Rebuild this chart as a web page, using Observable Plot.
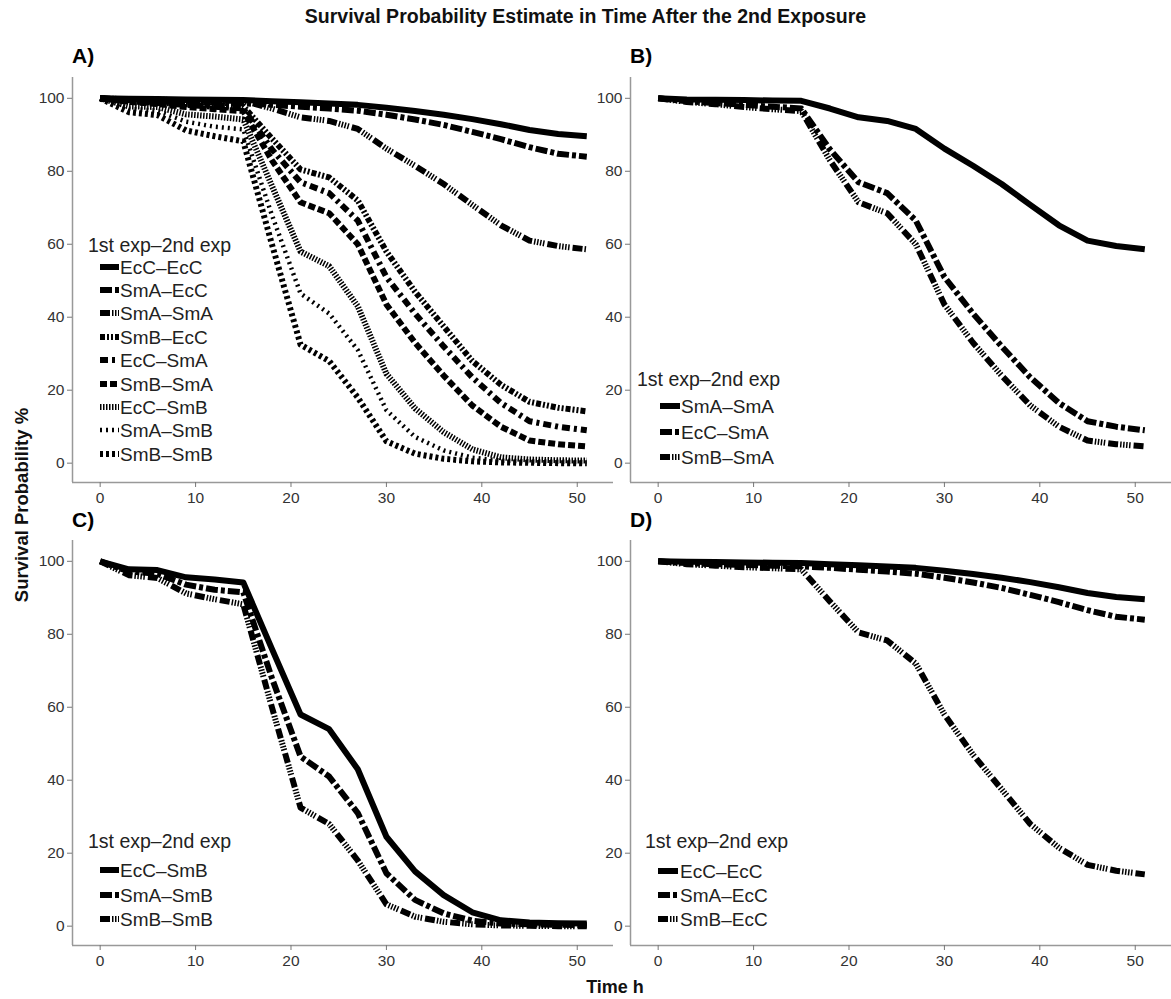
<!DOCTYPE html>
<html>
<head>
<meta charset="utf-8">
<script src="https://cdn.jsdelivr.net/npm/d3@7"></script>
<script src="https://cdn.jsdelivr.net/npm/@observablehq/plot@0.6"></script>
<style>
  html, body { margin: 0; padding: 0; background: #fff; }
  #root { position: relative; width: 1171px; height: 999px; background: #fff; font-family: "Liberation Sans", Arial, sans-serif; overflow: hidden; }
  .abs { position: absolute; white-space: nowrap; }
  .plot { position: absolute; }
  .lbl { position: absolute; white-space: nowrap; transform: translateY(-50%); line-height: 1; }
</style>
</head>
<body>
<div id="root"></div>
<script>
// ---------------- data ----------------
const time = [0, 3, 6, 9, 12, 15, 18, 21, 24, 27, 30, 33, 36, 39, 42, 45, 48, 51];

const EcC_EcC = [100, 99.9, 99.8, 99.7, 99.6, 99.5, 99.2, 98.9, 98.6, 98.2, 97.4, 96.5, 95.5, 94.3, 92.9, 91.3, 90.2, 89.6];
const SmA_EcC = [100, 99.5, 99.2, 99.0, 98.8, 98.6, 98.2, 97.7, 97.2, 96.6, 95.5, 94.2, 92.7, 90.8, 88.8, 86.6, 84.8, 84.0];
const SmA_SmA = [100, 99.7, 99.6, 99.5, 99.4, 99.3, 97.2, 94.8, 93.8, 91.6, 86.2, 81.5, 76.5, 70.8, 65.2, 61.0, 59.5, 58.6];
const SmB_EcC = [100, 99.2, 98.8, 98.4, 98.1, 97.8, 89.0, 80.5, 78.3, 72.0, 58.0, 47.0, 37.5, 28.0, 21.5, 16.8, 15.2, 14.2];
const EcC_SmA = [100, 99.2, 98.7, 98.2, 97.7, 97.2, 86.0, 77.0, 74.0, 66.5, 51.0, 41.0, 32.0, 23.5, 16.5, 11.5, 10.0, 9.0];
const SmB_SmA = [100, 99.0, 98.4, 97.6, 97.0, 96.5, 83.0, 71.5, 68.5, 60.0, 43.5, 33.0, 24.0, 15.8, 10.0, 6.2, 5.2, 4.6];
const EcC_SmB = [100, 97.8, 97.6, 95.6, 95.0, 94.2, 76.0, 58.0, 54.0, 43.0, 24.5, 15.0, 8.5, 3.8, 1.6, 1.0, 0.8, 0.7];
const SmA_SmB = [100, 97.2, 96.6, 93.6, 92.2, 91.5, 68.0, 46.5, 41.0, 31.0, 14.5, 7.2, 3.5, 1.5, 0.7, 0.5, 0.4, 0.3];
const SmB_SmB = [100, 96.2, 95.4, 91.2, 89.6, 88.2, 60.0, 32.5, 28.0, 18.0, 6.0, 2.6, 1.2, 0.5, 0.2, 0.1, 0.0, 0.0];

const seriesNames = ["EcC–EcC", "SmA–EcC", "SmA–SmA", "SmB–EcC", "EcC–SmA", "SmB–SmA", "EcC–SmB", "SmA–SmB", "SmB–SmB"];
const seriesValues = [EcC_EcC, SmA_EcC, SmA_SmA, SmB_EcC, EcC_SmA, SmB_SmA, EcC_SmB, SmA_SmB, SmB_SmB];

const xTicks = [0, 10, 20, 30, 40, 50];
const yTicks = [0, 20, 40, 60, 80, 100];

const panelA = ["EcC–EcC", "SmA–EcC", "SmA–SmA", "SmB–EcC", "EcC–SmA", "SmB–SmA", "EcC–SmB", "SmA–SmB", "SmB–SmB"];
const panelB = ["SmA–SmA", "EcC–SmA", "SmB–SmA"];
const panelC = ["EcC–SmB", "SmA–SmB", "SmB–SmB"];
const panelD = ["EcC–EcC", "SmA–EcC", "SmB–EcC"];

const titleText = "Survival Probability Estimate in Time After the 2nd Exposure";
const legendTitle = "1st exp–2nd exp";
const yLabel = "Survival Probability %";
const xLabel = "Time h";

// ---------------- styles ----------------
const styleA = {
  "EcC–EcC": {dash: null, w: 6},
  "SmA–EcC": {dash: "12,3,4,3", w: 6},
  "SmA–SmA": {dash: "10,2,1.5,1.5,1.5,1.5,1.5,1.5,1.5,3", w: 6},
  "SmB–EcC": {dash: "5,2,2,2,2,2", w: 6},
  "EcC–SmA": {dash: "8,4,3,4", w: 6},
  "SmB–SmA": {dash: "7,3", w: 6},
  "EcC–SmB": {dash: "1.5,1.5", w: 6},
  "SmA–SmB": {dash: "2,4", w: 4.5},
  "SmB–SmB": {dash: "3,3", w: 6}
};
const style3 = [
  {dash: null, w: 6},
  {dash: "12,3,4,3", w: 6},
  {dash: "10,2,1.5,1.5,1.5,1.5,1.5,1.5,1.5,3", w: 6}
];

// long-format table built from arrays
const table = [];
seriesNames.forEach((s, i) => time.forEach((t, j) => table.push({series: s, time: t, value: seriesValues[i][j]})));

const root = document.getElementById("root");
const xDomain = [-2.9, 53.8];
const yDomain = [-5.3, 105.7];

function panel(names, styleFor, left, top) {
  const width = 613; // marginLeft 72 + frame 541
  const marks = [
    Plot.ruleX([xDomain[0]], {stroke: "#999", strokeWidth: 1.5}),
    Plot.ruleY([yDomain[0]], {stroke: "#999", strokeWidth: 1.5}),
    Plot.axisX({ticks: xTicks, tickSize: 5, tickPadding: 4, stroke: "#777", fill: "#333", fontSize: 15.5, label: null}),
    Plot.axisY({ticks: yTicks, tickSize: 5, tickPadding: 3, stroke: "#777", fill: "#333", fontSize: 15.5, label: null})
  ];
  names.forEach((s, i) => {
    const st = styleFor(s, i);
    marks.push(Plot.line(table.filter(d => d.series === s), {
      x: "time", y: "value", stroke: "#000", strokeWidth: st.w,
      strokeDasharray: st.dash || undefined, strokeLinecap: "butt", strokeLinejoin: "round"
    }));
  });
  const p = Plot.plot({
    width: width, height: 505,
    marginLeft: 72, marginRight: 0, marginTop: 77, marginBottom: 23,
    x: {domain: xDomain},
    y: {domain: yDomain},
    style: {fontFamily: "'Liberation Sans', Arial, sans-serif", fontSize: "15.5px", background: "transparent", overflow: "visible"},
    marks
  });
  const div = document.createElement("div");
  div.className = "plot";
  div.style.left = left + "px";
  div.style.top = top + "px";
  div.appendChild(p);
  root.appendChild(div);
}

panel(panelA, s => styleA[s], 0, 0);
panel(panelB, (s, i) => style3[i], 558, 0);
panel(panelC, (s, i) => style3[i], 0, 463);
panel(panelD, (s, i) => style3[i], 558, 463);

// ---------------- text ----------------
function addText(txt, x, cy, css) {
  const d = document.createElement("div");
  d.className = "lbl";
  d.textContent = txt;
  d.style.left = x + "px";
  d.style.top = cy + "px";
  Object.assign(d.style, css || {});
  root.appendChild(d);
  return d;
}

addText(titleText, 0, 17, {width: "1171px", textAlign: "center", fontWeight: "bold", fontSize: "19.5px", color: "#111"});
addText("A)", 72, 55, {fontWeight: "bold", fontSize: "21px", color: "#000"});
addText("B)", 630, 55, {fontWeight: "bold", fontSize: "21px", color: "#000"});
addText("C)", 72, 519, {fontWeight: "bold", fontSize: "21px", color: "#000"});
addText("D)", 630, 519, {fontWeight: "bold", fontSize: "21px", color: "#000"});
addText(xLabel, 0, 987, {width: "1230px", textAlign: "center", fontWeight: "bold", fontSize: "18px", color: "#111"});

const yl = document.createElement("div");
yl.className = "abs";
yl.textContent = yLabel;
Object.assign(yl.style, {left: "22px", top: "505px", fontWeight: "bold", fontSize: "18.5px", color: "#111", transform: "translate(-50%,-50%) rotate(-90deg)", lineHeight: "1"});
root.appendChild(yl);

// ---------------- legends ----------------
function legend(names, styleFor, titleX, titleY, swX, swW, textX, rowY0, rowStep) {
  addText(legendTitle, titleX, titleY, {fontSize: "19.5px", color: "#222"});
  names.forEach((s, i) => {
    const cy = rowY0 + i * rowStep;
    const st = styleFor(s, i);
    const svg = d3.create("svg").attr("width", swW).attr("height", 10)
      .style("position", "absolute").style("left", swX + "px").style("top", (cy - 5) + "px");
    svg.append("line").attr("x1", 0).attr("x2", swW).attr("y1", 5).attr("y2", 5)
      .attr("stroke", "#000").attr("stroke-width", st.w)
      .attr("stroke-dasharray", st.dash || null);
    root.appendChild(svg.node());
    addText(s, textX, cy, {fontSize: "19px", color: "#222"});
  });
}
legend(panelA, s => styleA[s], 88, 246, 100, 19, 120, 266.5, 23.4);
legend(panelB, (s, i) => style3[i], 637, 380, 660, 20, 681, 406, 25.5);
legend(panelC, (s, i) => style3[i], 88, 842, 100, 19, 120, 870, 24.5);
legend(panelD, (s, i) => style3[i], 645, 842, 658, 20, 680, 871, 24);
</script>
</body>
</html>
